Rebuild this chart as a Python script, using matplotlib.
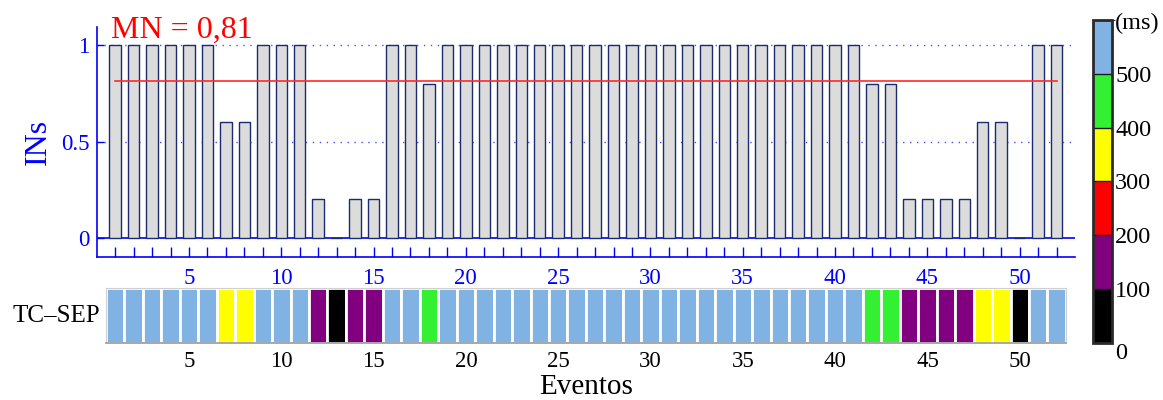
import numpy as np
import matplotlib
matplotlib.use("Agg")
import matplotlib.pyplot as plt
from matplotlib.colors import ListedColormap, BoundaryNorm

plt.rcParams["font.family"] = ["Liberation Serif", "DejaVu Serif"]

# Index per event (INs) for each of the 52 events
events = list(range(1, 53))
ins = [1, 1, 1, 1, 1, 1, 0.6, 0.6, 1, 1, 1, 0.2, 0.0, 0.2, 0.2, 1, 1, 0.8,
       1, 1, 1, 1, 1, 1, 1, 1, 1, 1, 1, 1, 1, 1, 1, 1, 1, 1, 1, 1, 1, 1, 1,
       0.8, 0.8, 0.2, 0.2, 0.2, 0.2, 0.6, 0.6, 0.0, 1, 1]

# TC-SEP time per event (ms)
tc_sep_ms = [550, 550, 550, 550, 550, 550, 350, 350, 550, 550, 550, 150, 50,
             150, 150, 550, 550, 450, 550, 550, 550, 550, 550, 550, 550, 550,
             550, 550, 550, 550, 550, 550, 550, 550, 550, 550, 550, 550, 550,
             550, 550, 450, 450, 150, 150, 150, 150, 350, 350, 50, 550, 550]

# Colour scale bins (ms)
bounds = [0, 100, 200, 300, 400, 500, 600]
bin_colors = ["#000000", "#800080", "#ff0000", "#ffff00", "#33f033", "#80b2e4"]
cbar_ticks = [0, 100, 200, 300, 400, 500]

BLUE = "#0000ff"
W, H = 1163, 400
fig = plt.figure(figsize=(W / 100, H / 100), dpi=100)


def frac(x0, y0, x1, y1):
    """Pixel box (left, top, right, bottom) to figure fraction rect."""
    return [x0 / W, 1 - y1 / H, (x1 - x0) / W, (y1 - y0) / H]


# ---- top panel: INs bars ----
ax = fig.add_axes(frac(96.7, 26.7, 1075, 257))
ax.set_xlim(0, 53)
ax.set_ylim(-0.0984, 1.095)

for yv in (0.5, 1.0):
    ax.axhline(yv, color=BLUE, lw=1.0, ls=(0, (1, 4)), alpha=0.7, zorder=1)
ax.axhline(0, color=BLUE, lw=1.2, zorder=1)

ax.bar(events, ins, width=0.62, color="#dcdcdc", edgecolor="#1c2a6e",
       linewidth=1.0, zorder=2)

mn = float(np.mean(ins))
ax.plot([events[0], events[-1]], [mn, mn], color="#ff2a2a", lw=1.2, zorder=3)
fig.text(111 / W, 1 - 37.7 / H, ("MN = %.2f" % mn).replace(".", ","),
         color="#ff0000", fontsize=23, ha="left", va="baseline")

for side in ("top", "right"):
    ax.spines[side].set_visible(False)
for side in ("left", "bottom"):
    ax.spines[side].set_color(BLUE)
    ax.spines[side].set_linewidth(1.2)

ax.set_xticks(events)
ax.set_xticklabels([str(e) if e % 5 == 0 else "" for e in events])
ax.set_yticks([0, 0.5, 1])
ax.set_yticklabels(["0", "0.5", "1"])
ax.tick_params(axis="x", direction="in", length=7, width=1, color=BLUE,
               labelcolor=BLUE, labelsize=16.5, pad=8)
ax.tick_params(axis="y", direction="in", length=5, width=1, color=BLUE,
               labelcolor=BLUE, labelsize=16.5, pad=5)
fig.text(38 / W, 1 - 141.7 / H, "INs", color=BLUE, fontsize=23,
         rotation=90, ha="center", va="center")

# ---- strip: TC-SEP colour cells ----
cmap = ListedColormap(bin_colors)
norm = BoundaryNorm(bounds, cmap.N)

ax2 = fig.add_axes(frac(105.9, 288, 1065.9, 343))
ax2.bar(events, [1] * len(events), width=1.0, bottom=0,
        color=cmap(norm(tc_sep_ms)), edgecolor="white", linewidth=2.0)
ax2.set_xlim(0.5, 52.5)
ax2.set_ylim(0, 1)
ax2.set_yticks([])
ax2.set_xticks([e for e in events if e % 5 == 0])
ax2.tick_params(axis="x", length=0, labelsize=16.5, pad=6)
for side in ("top", "left", "right"):
    ax2.spines[side].set_color("#d0d0d0")
    ax2.spines[side].set_linewidth(0.8)
ax2.spines["bottom"].set_color("#999999")
ax2.spines["bottom"].set_linewidth(1.2)

fig.text(100 / W, 1 - 316.5 / H, "TC–SEP", fontsize=18, ha="right", va="center")
fig.text(586 / W, 1 - 394 / H, "Eventos", fontsize=21, ha="center", va="baseline")

# ---- colour bar ----
cax = fig.add_axes(frac(1093.3, 20, 1112.3, 342.7))
sm = matplotlib.cm.ScalarMappable(cmap=cmap, norm=norm)
cb = fig.colorbar(sm, cax=cax, boundaries=bounds, ticks=cbar_ticks,
                  drawedges=True)
cb.outline.set_edgecolor("#2a2a2a")
cb.outline.set_linewidth(2.0)
cb.dividers.set_color("#1a1a1a")
cb.dividers.set_linewidth(1.0)
cax.tick_params(length=0, labelsize=17.5, pad=2)
cb.set_ticklabels([str(t) for t in cbar_ticks])
cax.yaxis.get_major_ticks()[0].label2.set_va("top")
fig.text(1115 / W, 1 - 23 / H, "(ms)", fontsize=17.5, ha="left", va="center")

fig.savefig("out.png", dpi=100)
